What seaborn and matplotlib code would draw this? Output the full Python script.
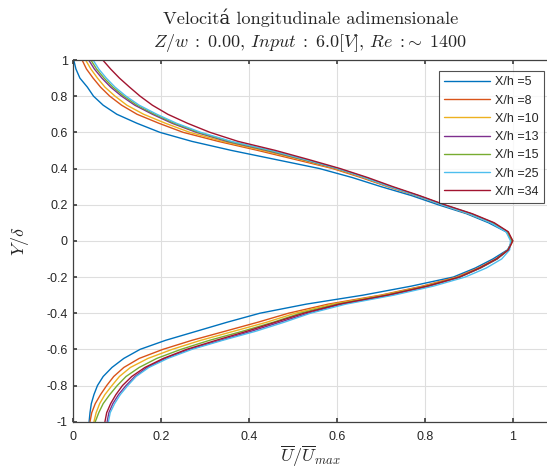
import numpy as np
import pandas as pd
import matplotlib
matplotlib.use("Agg")
import matplotlib.pyplot as plt
import seaborn as sns

# ---------------- data ----------------
Y = [-1.0, -0.95, -0.9, -0.85, -0.8, -0.75, -0.7, -0.65, -0.6, -0.55, -0.5,
     -0.45, -0.4, -0.35, -0.3, -0.25, -0.2, -0.15, -0.1, -0.05, 0.0,
     0.05, 0.1, 0.15, 0.2, 0.25, 0.3, 0.35, 0.4, 0.45, 0.5,
     0.55, 0.6, 0.65, 0.7, 0.75, 0.8, 0.85, 0.9, 0.95, 1.0]

u_5 = [0.036, 0.038, 0.041, 0.047, 0.055, 0.068, 0.088, 0.115, 0.152, 0.21, 0.28,
       0.35, 0.425, 0.53, 0.66, 0.77, 0.865, 0.915, 0.955, 0.988, 1.0,
       0.985, 0.945, 0.895, 0.83, 0.77, 0.70, 0.635, 0.56, 0.46, 0.36,
       0.27, 0.197, 0.145, 0.099, 0.068, 0.046, 0.032, 0.015, 0.006, 0.001]
u_8 = [0.038, 0.042, 0.05, 0.062, 0.076, 0.092, 0.115, 0.15, 0.204, 0.27, 0.345,
       0.42, 0.49, 0.58, 0.70, 0.795, 0.873, 0.922, 0.962, 0.99, 1.0,
       0.988, 0.952, 0.90, 0.838, 0.78, 0.715, 0.655, 0.59, 0.505, 0.42,
       0.33, 0.25, 0.195, 0.145, 0.11, 0.083, 0.062, 0.045, 0.03, 0.02]
u_10 = [0.047, 0.052, 0.06, 0.072, 0.088, 0.105, 0.13, 0.17, 0.225, 0.29, 0.365,
        0.44, 0.505, 0.59, 0.705, 0.80, 0.876, 0.924, 0.963, 0.99, 1.0,
        0.988, 0.952, 0.90, 0.84, 0.782, 0.718, 0.66, 0.595, 0.515, 0.43,
        0.34, 0.265, 0.21, 0.16, 0.122, 0.095, 0.072, 0.055, 0.04, 0.028]
u_13 = [0.077, 0.081, 0.09, 0.103, 0.12, 0.14, 0.168, 0.21, 0.265, 0.335, 0.405,
        0.47, 0.535, 0.61, 0.72, 0.81, 0.88, 0.927, 0.965, 0.99, 0.998,
        0.988, 0.955, 0.905, 0.842, 0.785, 0.722, 0.665, 0.60, 0.522, 0.44,
        0.35, 0.28, 0.225, 0.18, 0.14, 0.11, 0.085, 0.065, 0.048, 0.035]
u_15 = [0.05, 0.058, 0.068, 0.083, 0.10, 0.12, 0.15, 0.19, 0.245, 0.31, 0.385,
        0.455, 0.517, 0.60, 0.712, 0.805, 0.879, 0.926, 0.964, 0.99, 0.998,
        0.988, 0.955, 0.905, 0.842, 0.785, 0.722, 0.665, 0.602, 0.525, 0.445,
        0.355, 0.285, 0.23, 0.185, 0.145, 0.115, 0.09, 0.07, 0.053, 0.04]
u_25 = [0.08, 0.084, 0.094, 0.107, 0.124, 0.143, 0.172, 0.215, 0.27, 0.34, 0.415,
        0.48, 0.54, 0.62, 0.73, 0.82, 0.892, 0.94, 0.975, 0.993, 0.995,
        0.985, 0.95, 0.90, 0.838, 0.782, 0.72, 0.663, 0.602, 0.527, 0.45,
        0.36, 0.29, 0.235, 0.19, 0.15, 0.12, 0.095, 0.075, 0.058, 0.045]
u_34 = [0.072, 0.076, 0.085, 0.097, 0.112, 0.133, 0.163, 0.205, 0.258, 0.325, 0.395,
        0.46, 0.525, 0.605, 0.715, 0.806, 0.879, 0.925, 0.963, 0.99, 1.0,
        0.99, 0.958, 0.908, 0.845, 0.788, 0.727, 0.67, 0.607, 0.535, 0.46,
        0.375, 0.311, 0.26, 0.215, 0.18, 0.152, 0.128, 0.105, 0.085, 0.067]

series = {"X/h =5": u_5, "X/h =8": u_8, "X/h =10": u_10, "X/h =13": u_13,
          "X/h =15": u_15, "X/h =25": u_25, "X/h =34": u_34}
colors = ["#0072BD", "#D95319", "#EDB120", "#7E2F8E", "#77AC30", "#4DBEEE", "#A2142F"]

x_ticks = [0, 0.2, 0.4, 0.6, 0.8, 1]
x_ticklabels = ["0", "0.2", "0.4", "0.6", "0.8", "1"]
y_ticks = [-1, -0.8, -0.6, -0.4, -0.2, 0, 0.2, 0.4, 0.6, 0.8, 1]
y_ticklabels = ["-1", "-0.8", "-0.6", "-0.4", "-0.2", "0", "0.2", "0.4", "0.6", "0.8", "1"]

title_1 = "Velocitá longitudinale adimensionale"
title_2 = r"$Z/w\;:\;0.00,\,Input\;:\;6.0[V],\,Re\;:\!\sim\;1400$"
xlabel = r"$\overline{U}/\overline{U}_{max}$"
ylabel = r"$Y/\delta$"

# ---------------- build table ----------------
rows = []
for name, vals in series.items():
    for i, (u, y) in enumerate(zip(vals, Y)):
        rows.append({"serie": name, "U": u, "Y": y, "idx": i})
df = pd.DataFrame(rows)

# ---------------- plot ----------------
sns.set_theme(style="white")
plt.rcParams["font.family"] = ["Liberation Sans", "DejaVu Sans"]
plt.rcParams["mathtext.fontset"] = "cm"
plt.rcParams["axes.unicode_minus"] = False

W, H = 547, 473
x0_px, x1_px = 73.3, 512.7      # data 0 and 1
y_top, y_bot = 60.0, 421.7       # data 1 and -1

fig = plt.figure(figsize=(W / 100, H / 100), dpi=100)
ax = fig.add_axes([x0_px / W, (H - y_bot) / H, 1 - x0_px / W, (y_bot - y_top) / H])

sns.lineplot(data=df, x="U", y="Y", hue="serie", palette=colors, sort=False,
             estimator=None, units="serie", linewidth=1.0, ax=ax, legend=True)

ax.set_xlim(0, (W - x0_px) / (x1_px - x0_px))
ax.set_ylim(-1, 1)
ax.set_xticks(x_ticks)
ax.set_xticklabels(x_ticklabels)
ax.set_yticks(y_ticks)
ax.set_yticklabels(y_ticklabels)
ax.grid(True, color="#dedede", linewidth=0.8)
ax.tick_params(axis="both", which="both", direction="in", length=3, color="#404040",
               labelsize=9, labelcolor="#262626", top=True, left=True, bottom=True, pad=4)
ax.tick_params(axis="x", pad=7)
for s in ["left", "bottom", "top"]:
    ax.spines[s].set_color("#404040")
    ax.spines[s].set_linewidth(0.9)
ax.spines["right"].set_visible(False)

ax.set_xlabel(xlabel, fontsize=13, color="#262626", labelpad=0)
ax.set_ylabel(ylabel, fontsize=13, color="#262626", labelpad=11)

fig.text(311 / W, 1 - 18 / H, title_1, ha="center", va="center",
         fontsize=13.2, family=["cmr10", "DejaVu Serif"])
fig.text(310 / W, 1 - 43 / H, title_2, ha="center", va="center", fontsize=13)

ax_w_px = W - x0_px
ax_h_px = y_bot - y_top
leg = ax.legend(loc="upper right",
                bbox_to_anchor=((544 - x0_px) / ax_w_px, 1 - (70.7 - y_top) / ax_h_px),
                bbox_transform=ax.transAxes, fontsize=9, frameon=True, fancybox=False,
                edgecolor="#262626", handlelength=3.7, handletextpad=0.35,
                labelspacing=0.5, borderpad=0.45, borderaxespad=0)
leg.get_frame().set_linewidth(0.8)
leg.get_frame().set_facecolor("white")

fig.savefig("out.png", dpi=100)
